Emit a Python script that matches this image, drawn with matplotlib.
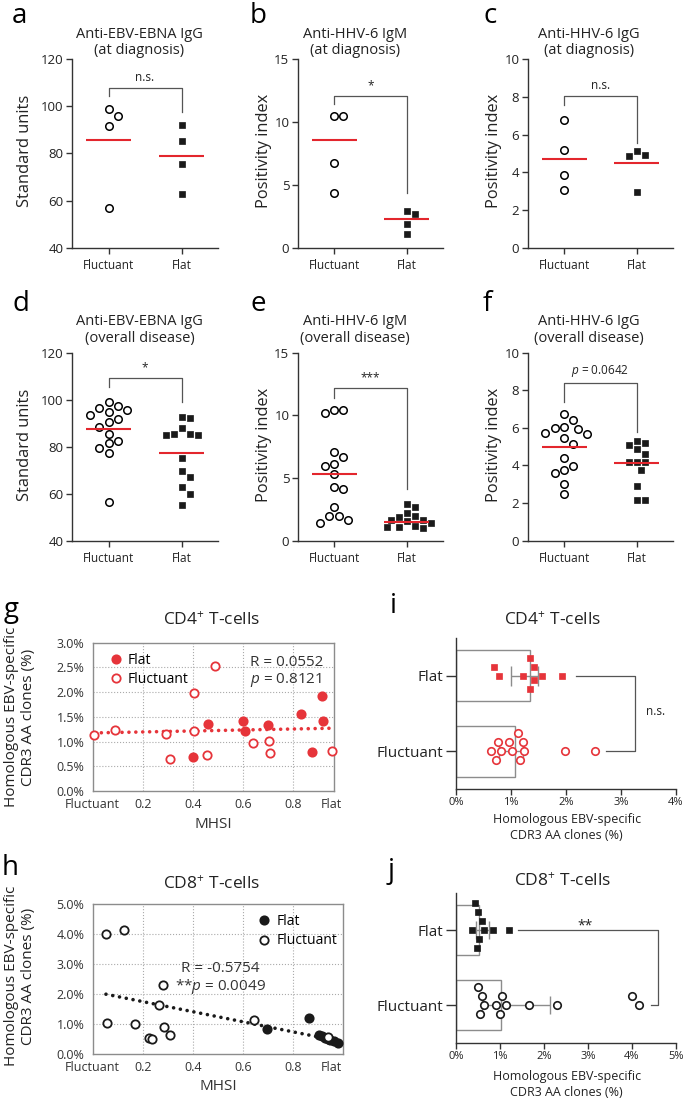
import numpy as np
import matplotlib
matplotlib.use("Agg")
import matplotlib.pyplot as plt
from matplotlib.lines import Line2D

plt.rcParams['font.family'] = ['Open Sans', 'DejaVu Sans']
plt.rcParams['mathtext.fontset'] = 'custom'
plt.rcParams['mathtext.rm'] = 'Open Sans'
plt.rcParams['mathtext.it'] = 'Open Sans:italic'

groups = ['Fluctuant', 'Flat']

# a-f: antibody levels, fluctuant vs flat patients
a_fluct = [99.0, 95.7, 91.8, 56.8]
a_flat = [91.9, 85.2, 75.7, 63.0]
a_means = [85.9, 79.1]

b_fluct = [10.45, 10.45, 6.75, 4.37]
b_flat = [2.96, 2.70, 1.93, 1.14]
b_means = [8.6, 2.33]

c_fluct = [6.79, 5.20, 3.84, 3.09]
c_flat = [5.11, 4.94, 4.88, 2.96]
c_means = [4.73, 4.48]

d_fluct = [99.0, 97.3, 96.6, 95.5, 94.6, 93.5, 91.6, 90.5, 88.2, 85.4, 82.6, 81.4, 79.3, 77.4, 56.3]
d_flat = [92.5, 92.1, 88.1, 85.4, 85.2, 85.0, 85.0, 75.3, 69.5, 67.1, 62.7, 59.9, 55.3]
d_means = [87.4, 77.2]

e_fluct = [10.43, 10.43, 10.16, 7.05, 6.70, 6.09, 5.98, 5.29, 4.31, 4.10, 2.66, 1.99, 1.99, 1.65, 1.44]
e_flat = [2.93, 2.66, 2.19, 2.00, 1.87, 1.65, 1.65, 1.55, 1.45, 1.20, 1.12, 1.07, 1.00]
e_means = [5.32, 1.52]

f_fluct = [6.74, 6.42, 6.06, 5.98, 5.96, 5.71, 5.67, 5.44, 5.14, 4.38, 3.99, 3.76, 3.62, 3.01, 2.48]
f_flat = [5.32, 5.21, 5.09, 4.88, 4.61, 4.17, 4.17, 4.17, 3.76, 2.91, 2.16, 2.16]
f_means = [4.96, 4.11]

# g/i: CD4+ T-cells, h/j: CD8+ T-cells (MHSI and % homologous clones)
cd4_flat_mhsi = [0.40, 0.46, 0.60, 0.61, 0.70, 0.83, 0.917, 0.92, 0.876]
cd4_flat_pct = [0.69, 1.35, 1.41, 1.21, 1.34, 1.56, 1.92, 1.42, 0.79]
cd4_fluct_mhsi = [0.007, 0.089, 0.292, 0.309, 0.405, 0.405, 0.487, 0.456, 0.641, 0.704, 0.707, 0.957]
cd4_fluct_pct = [1.13, 1.23, 1.16, 0.64, 1.98, 1.21, 2.52, 0.72, 0.97, 1.01, 0.77, 0.81]

cd8_flat_mhsi = [0.696, 0.863, 0.905, 0.915, 0.93, 0.94, 0.95, 0.965, 0.98]
cd8_flat_pct = [0.85, 1.20, 0.64, 0.60, 0.52, 0.50, 0.48, 0.44, 0.37]
cd8_fluct_mhsi = [0.053, 0.127, 0.059, 0.167, 0.225, 0.236, 0.279, 0.264, 0.283, 0.307, 0.645, 0.94]
cd8_fluct_pct = [3.99, 4.15, 1.04, 1.00, 0.54, 0.51, 2.30, 1.65, 0.91, 0.63, 1.13, 0.58]

RED = '#e6343a'
RED_LINE = '#e3262d'
DARK = '#222222'
GREY = '#8c8c8c'

W, H = 685.0, 1101.0
fig = plt.figure(figsize=(6.85, 11.01), dpi=100)


def px_axes(left, top, right, bottom):
    return fig.add_axes([left / W, 1 - bottom / H, (right - left) / W, (bottom - top) / H])


def fig_text(x, y, s, **kw):
    return fig.text(x / W, 1 - y / H, s, **kw)


def swarm(ax, vals, center, d_px, vertical=True):
    '''
    Offsets along the category axis so the markers do not overlap.
    '''
    vals = np.asarray(vals, float)
    n = len(vals)
    if vertical:
        v_px = ax.transData.transform(np.column_stack([np.full(n, center), vals]))[:, 1]
        unit = ax.transData.transform((center + 1, 0))[0] - ax.transData.transform((center, 0))[0]
    else:
        v_px = ax.transData.transform(np.column_stack([vals, np.full(n, center)]))[:, 0]
        unit = ax.transData.transform((0, center + 1))[1] - ax.transData.transform((0, center))[1]
    steps = [0.0]
    for k in range(1, 30):
        steps += [k * d_px / 2, -k * d_px / 2]
    placed = []
    offs = np.zeros(n)
    for i in np.argsort(-v_px):
        for s in steps:
            if all((v_px[i] - pv) ** 2 + (s - po) ** 2 >= d_px ** 2 for pv, po in placed):
                break
        placed.append((v_px[i], s))
        offs[i] = s / unit
    return center + offs


# ---- a-f dot plots ----
cols = [(72, 218, 139.5, 25), (297.7, 443, 355, 264), (527.7, 673, 589, 494)]
rows = [(59, 248, 38.3, 53.5, 151, 23), (352.7, 540.7, 325, 342, 445, 311)]

dot_panels = [
    ('a', 0, 0, 'Anti-EBV-EBNA IgG', '(at diagnosis)', 'Standard units', (40, 120), 20,
     a_fluct, a_flat, a_means, (107.7, 104.2, 97.4), 'n.s.'),
    ('b', 0, 1, 'Anti-HHV-6 IgM', '(at diagnosis)', 'Positivity index', (0, 15), 5,
     b_fluct, b_flat, b_means, (12.04, 11.4, 4.4), '*'),
    ('c', 0, 2, 'Anti-HHV-6 IgG', '(at diagnosis)', 'Positivity index', (0, 10), 2,
     c_fluct, c_flat, c_means, (8.02, 7.58, 5.56), 'n.s.'),
    ('d', 1, 0, 'Anti-EBV-EBNA IgG', '(overall disease)', 'Standard units', (40, 120), 20,
     d_fluct, d_flat, d_means, (109.1, 105.2, 99.1), '*'),
    ('e', 1, 1, 'Anti-HHV-6 IgM', '(overall disease)', 'Positivity index', (0, 15), 5,
     e_fluct, e_flat, e_means, (12.15, 11.36, 4.1), '***'),
    ('f', 1, 2, 'Anti-HHV-6 IgG', '(overall disease)', 'Positivity index', (0, 10), 2,
     f_fluct, f_flat, f_means, (8.37, 7.39, 5.8), '$p$ = 0.0642'),
]
letter_x = [12, 250, 483]

for letter, r, c, t1, t2, ylab, ylim, ystep, fl, fa, means, br, sig in dot_panels:
    left, right, tx, lx = cols[c]
    top, bottom, tb1, tb2, ly, lb = rows[r]
    ax = px_axes(left, top, right, bottom)
    ax.set_xlim(-0.5, 1.5)
    ax.set_ylim(*ylim)
    ax.set_yticks(np.arange(ylim[0], ylim[1] + 0.1, ystep))
    ax.set_xticks([0, 1])
    ax.set_xticklabels(groups)
    for s in ['top', 'right']:
        ax.spines[s].set_visible(False)
    for s in ['left', 'bottom']:
        ax.spines[s].set_color('#333333')
        ax.spines[s].set_linewidth(1.0)
    ax.tick_params(length=4, width=1, color='#333333', labelcolor=DARK, pad=2)
    ax.tick_params(axis='y', labelsize=9.5)
    ax.tick_params(axis='x', labelsize=8.5, pad=4)

    xs = swarm(ax, fl, 0, 9.3)
    ax.plot(xs, fl, 'o', ms=5.4, mfc='white', mec='black', mew=1.1, zorder=3)
    xs = swarm(ax, fa, 1, 8.0)
    ax.plot(xs, fa, 's', ms=4.2, mfc='#1a1a1a', mec='#1a1a1a', mew=0.5, zorder=3)
    for i, m in enumerate(means):
        ax.plot([i - 0.31, i + 0.31], [m, m], color=RED_LINE, lw=1.5, zorder=4, solid_capstyle='butt')

    ax.plot([0, 0, 1, 1], [br[1], br[0], br[0], br[2]], color='#555555', lw=0.9, zorder=2)
    ax.annotate(sig, (0.5, br[0]), xytext=(0, 3), textcoords='offset points',
                ha='center', va='bottom', fontsize=8.5, color=DARK)

    fig_text(tx, tb1, t1, ha='center', va='baseline', fontsize=10.5, color=DARK)
    fig_text(tx, tb2, t2, ha='center', va='baseline', fontsize=10.5, color=DARK)
    fig_text(lx, ly, ylab, ha='center', va='center', rotation=90, fontsize=11.8, color=DARK)
    fig_text(letter_x[c], lb, letter, ha='left', va='baseline', fontsize=20, color='black')


# ---- g/h scatter vs MHSI ----
def mhsi_panel(ax, flat_x, flat_y, fl_x, fl_y, color, ymax, ystep, legend_anchor, r_xy, r_text, p_text, r_ha):
    ax.set_ylim(0, ymax)
    yt = np.arange(0, ymax + 1e-9, ystep)
    ax.set_yticks(yt)
    ax.set_yticklabels(['%.1f%%' % v for v in yt])
    ax.set_xticks([0, 0.2, 0.4, 0.6, 0.8, 0.955])
    ax.set_xticklabels(['Fluctuant', '0.2', '0.4', '0.6', '0.8', 'Flat'])
    for lab in [ax.get_xticklabels()[0], ax.get_xticklabels()[-1]]:
        lab.set_color('#888888')
    ax.tick_params(length=0, labelsize=9, labelcolor='#333333')
    ax.tick_params(axis='x', pad=5)
    ax.tick_params(axis='y', pad=6)
    for s in ax.spines.values():
        s.set_color(GREY)
        s.set_linewidth(1.0)
    for xv in [0.2, 0.4, 0.6, 0.8]:
        ax.axvline(xv, color='#aaaaaa', lw=0.8, ls=':', zorder=0)
    for yv in yt[1:-1]:
        ax.axhline(yv, color='#aaaaaa', lw=0.8, ls=':', zorder=0)

    all_x = np.concatenate([flat_x, fl_x])
    all_y = np.concatenate([flat_y, fl_y])
    k, b0 = np.polyfit(all_x, all_y, 1)
    lx = np.array([all_x.min(), all_x.max()])
    ax.plot(lx, k * lx + b0, color=color, lw=2.6, ls=(0, (0.01, 1.9)), dash_capstyle='round', zorder=2)

    ax.plot(flat_x, flat_y, 'o', ms=6, mfc=color, mec=color, mew=1.3, zorder=3, clip_on=False)
    ax.plot(fl_x, fl_y, 'o', ms=6, mfc='white', mec=color, mew=1.3, zorder=4, clip_on=False)

    handles = [Line2D([], [], ls='none', marker='o', ms=6, mfc=color, mec=color, mew=1.3),
               Line2D([], [], ls='none', marker='o', ms=6, mfc='white', mec=color, mew=1.3)]
    ax.legend(handles, ['Flat', 'Fluctuant'], loc='upper left', bbox_to_anchor=legend_anchor,
              frameon=False, fontsize=10, handlelength=0.8, handletextpad=0.5,
              labelspacing=0.3, borderaxespad=0, borderpad=0.2)
    ax.text(r_xy[0], r_xy[1], r_text, transform=ax.transAxes, ha=r_ha, va='center', fontsize=11, color='#333333')
    ax.text(r_xy[0], r_xy[2], p_text, transform=ax.transAxes, ha=r_ha, va='center', fontsize=11, color='#333333')
    ax.set_xlabel('MHSI', fontsize=11, color='#333333', labelpad=4)


axg = px_axes(92.7, 642.7, 334.3, 791)
axg.set_xlim(0, 0.965)
mhsi_panel(axg, np.array(cd4_flat_mhsi), np.array(cd4_flat_pct), np.array(cd4_fluct_mhsi),
           np.array(cd4_fluct_pct), RED, 3.0, 0.5, (0.06, 0.95), (0.65, 0.865, 0.75),
           'R = 0.0552', '$p$ = 0.8121', 'left')
axh = px_axes(92.7, 904, 343, 1054)
axh.set_xlim(0, 1.0)
mhsi_panel(axh, np.array(cd8_flat_mhsi), np.array(cd8_flat_pct), np.array(cd8_fluct_mhsi),
           np.array(cd8_fluct_pct), '#1a1a1a', 5.0, 1.0, (0.65, 0.95), (0.51, 0.573, 0.449),
           'R = -0.5754', '**$p$ = 0.0049', 'center')

ylab2 = 'Homologous EBV-specific\nCDR3 AA clones (%)'
fig_text(20, 717, ylab2, ha='center', va='center', rotation=90, fontsize=11, color=DARK, linespacing=1.15)
fig_text(20, 976, ylab2, ha='center', va='center', rotation=90, fontsize=11, color=DARK, linespacing=1.15)
fig_text(211.7, 625, 'CD4$^{+}$ T-cells', ha='center', va='baseline', fontsize=12.5, color=DARK)
fig_text(211.7, 889, 'CD8$^{+}$ T-cells', ha='center', va='baseline', fontsize=12.5, color=DARK)
fig_text(4, 617, 'g', ha='left', va='baseline', fontsize=20)
fig_text(2, 875, 'h', ha='left', va='baseline', fontsize=20)


# ---- i/j bars: median with interquartile range ----
def bar_panel(ax, flat, fluct, mark_color, xmax, capsize):
    ax.set_ylim(-0.5, 1.5)
    ax.set_xlim(0, xmax)
    ax.set_yticks([0, 1])
    ax.set_yticklabels(groups)
    ax.set_xticks(np.arange(0, xmax + 1))
    ax.set_xticklabels(['%d%%' % v for v in np.arange(0, xmax + 1)])
    for s in ['top', 'right']:
        ax.spines[s].set_visible(False)
    for s in ['left', 'bottom']:
        ax.spines[s].set_color('#333333')
        ax.spines[s].set_linewidth(1.0)
    ax.tick_params(axis='y', length=7, width=1, color='#333333', labelsize=11, labelcolor=DARK, pad=2)
    ax.tick_params(axis='x', length=4, width=1, color='#333333', labelsize=8, labelcolor=DARK, pad=2)
    for pos, vals in [(1, flat), (0, fluct)]:
        vals = np.asarray(vals)
        med = np.median(vals)
        q1, q3 = np.percentile(vals, [25, 75], method='weibull')
        ax.barh(pos, med, height=0.67, color='white', edgecolor=GREY, lw=1, zorder=1)
        ax.errorbar(med, pos, xerr=[[med - q1], [q3 - med]], fmt='none', ecolor=GREY,
                    elinewidth=1, capsize=capsize, capthick=1, zorder=2)
        ys = swarm(ax, vals, pos, 9.0, vertical=False)
        if pos == 1:
            ax.plot(vals, ys, 's', ms=4.6, mfc=mark_color, mec=mark_color, mew=0.5, zorder=3)
        else:
            ax.plot(vals, ys, 'o', ms=5.4, mfc='white', mec=mark_color, mew=1.2, zorder=3)


axi = px_axes(456, 638, 676, 789)
bar_panel(axi, cd4_flat_pct, cd4_fluct_pct, RED, 4, 7.5)
axi.plot([2.19, 3.25, 3.25, 2.73], [1, 1, 0, 0], color='#555555', lw=0.9)
axi.text(3.62, 0.52, 'n.s.', ha='center', va='center', fontsize=8.5, color=DARK)

axj = px_axes(456, 892.7, 676, 1042.7)
bar_panel(axj, cd8_flat_pct, cd8_fluct_pct, '#1a1a1a', 5, 6.5)
axj.plot([1.42, 4.6, 4.6, 4.43], [1, 1, 0, 0], color='#555555', lw=0.9)
axj.text(2.93, 1.06, '**', ha='center', va='center', fontsize=10, color=DARK)

for yb, xlab_y in [(823, 839), (1080, 1096)]:
    fig_text(566.7, yb, 'Homologous EBV-specific', ha='center', va='baseline', fontsize=9, color=DARK)
    fig_text(566.7, xlab_y, 'CDR3 AA clones (%)', ha='center', va='baseline', fontsize=9, color=DARK)
fig_text(553, 625, 'CD4$^{+}$ T-cells', ha='center', va='baseline', fontsize=12.5, color=DARK)
fig_text(563, 886, 'CD8$^{+}$ T-cells', ha='center', va='baseline', fontsize=12.5, color=DARK)
fig_text(390, 613, 'i', ha='left', va='baseline', fontsize=20)
fig_text(388, 878, 'j', ha='left', va='baseline', fontsize=20)

fig.savefig('out.png', dpi=100)
